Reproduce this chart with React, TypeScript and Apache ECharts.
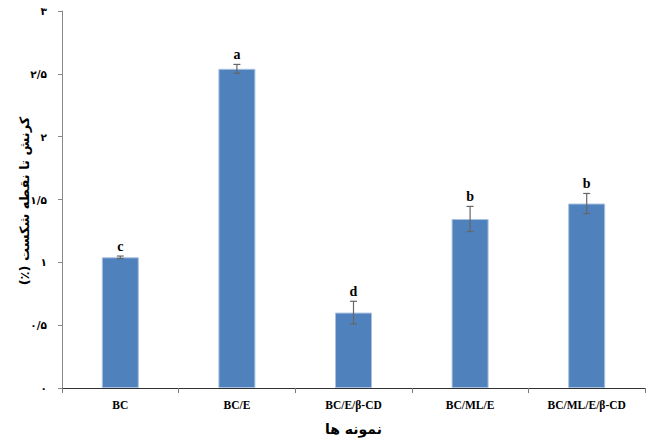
import React, { useEffect, useRef } from "react";
import * as echarts from "echarts";

const categories = ["BC", "BC/E", "BC/E/β-CD", "BC/ML/E", "BC/ML/E/β-CD"];
const values = [1.04, 2.54, 0.6, 1.345, 1.468];
const errors = [0.01, 0.035, 0.09, 0.1, 0.08];
const letters = ["c", "a", "d", "b", "b"];
const yTitle = "کرنش تا نقطه شکست (٪)\u200F";
const xTitle = "نمونه ها";

const faDigits = ["۰", "۱", "۲", "۳", "۴", "۵", "۶", "۷", "۸", "۹"];
function toFa(v: number): string {
  const s = String(Math.round(v * 10) / 10);
  return s.replace(/[0-9]/g, (d) => faDigits[+d]).replace(".", "/");
}

export default function App() {
  const ref = useRef<HTMLDivElement>(null);
  useEffect(() => {
    if (!ref.current) return;
    const chart = echarts.init(ref.current, undefined, { renderer: "svg" });
    const errData = categories.map((c, i) => [i, values[i], errors[i]]);
    chart.setOption({
      animation: false,
      grid: { left: 62, right: 3, top: 11, bottom: 50 },
      graphic: [
        {
          type: "text",
          x: 24,
          y: 201,
          rotation: Math.PI / 2,
          style: {
            text: yTitle,
            fill: "#000",
            font: "bold 13px 'DejaVu Sans'",
            textAlign: "center",
            textVerticalAlign: "middle",
          },
        },
      ],
      xAxis: {
        type: "category",
        data: categories,
        name: xTitle,
        nameLocation: "middle",
        nameGap: 34,
        nameTextStyle: { fontFamily: "DejaVu Sans", fontWeight: "bold", fontSize: 14, color: "#000" },
        axisLine: { lineStyle: { color: "#333", width: 1 } },
        axisTick: { show: true, length: 5, lineStyle: { color: "#777" } },
        axisLabel: { margin: 11, fontFamily: "Liberation Serif", fontWeight: "bold", fontSize: 11.5, color: "#000" },
      },
      yAxis: {
        type: "value",
        min: 0,
        max: 3,
        interval: 0.5,
        axisLine: { show: true, lineStyle: { color: "#888", width: 1 } },
        axisTick: { show: true, length: 4, lineStyle: { color: "#888" } },
        splitLine: { show: false },
        axisLabel: {
          margin: 15,
          fontFamily: "DejaVu Sans",
          fontWeight: "bold",
          fontSize: 10.5,
          color: "#000",
          formatter: (v: number) => toFa(v),
        },
      },
      series: [
        {
          type: "bar",
          data: values,
          barWidth: 37,
          itemStyle: { color: "#4F81BD", borderColor: "#A9C1E0", borderWidth: 1 },
        },
        {
          type: "custom",
          data: errData,
          z: 5,
          renderItem: (params: any, api: any) => {
            const i = api.value(0);
            const m = api.value(1);
            const e = api.value(2);
            const lt = letters[params.dataIndex];
            const top = api.coord([i, m + e]);
            const bot = api.coord([i, m - e]);
            const x = top[0];
            const cap = 3.5;
            const st = { stroke: "#666", lineWidth: 1.2 };
            return {
              type: "group",
              children: [
                { type: "line", shape: { x1: x, y1: top[1], x2: x, y2: bot[1] }, style: st },
                { type: "line", shape: { x1: x - cap, y1: top[1], x2: x + cap, y2: top[1] }, style: st },
                { type: "line", shape: { x1: x - cap, y1: bot[1], x2: x + cap, y2: bot[1] }, style: st },
                {
                  type: "text",
                  x: x,
                  y: top[1] - 3,
                  style: {
                    text: lt,
                    fill: "#000",
                    font: "bold 14px 'Liberation Serif'",
                    textAlign: "center",
                    textVerticalAlign: "bottom",
                  },
                },
              ],
            };
          },
        },
      ],
    });
    return () => chart.dispose();
  }, []);
  return <div ref={ref} style={{ width: 648, height: 441, position: "absolute", left: 0, top: 0, background: "#fff" }} />;
}
